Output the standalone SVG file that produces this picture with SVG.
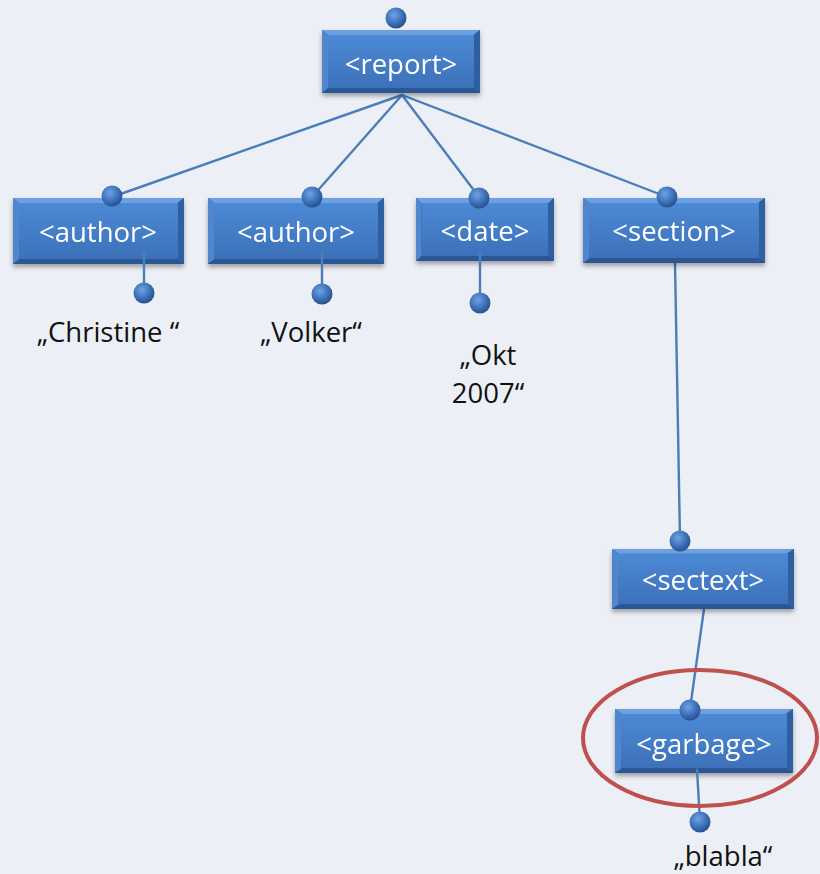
<svg xmlns="http://www.w3.org/2000/svg" width="820" height="874" viewBox="0 0 820 874">
  <style>
    .lbl { font-family: "Open Sans", "Liberation Sans", sans-serif; font-size: 27.5px; fill: #ffffff; text-anchor: middle; }
    .val { font-family: "Open Sans", "Liberation Sans", sans-serif; font-size: 27.5px; fill: #111111; text-anchor: middle; }
    .edge { stroke: #4A7EBB; stroke-width: 2.4; fill: none; stroke-linecap: round; }
    .face { fill: url(#faceGrad); }
    .ball { fill: url(#ballGrad); }
  </style>
  <defs>
    <linearGradient id="faceGrad" x1="0" y1="0" x2="0" y2="1">
      <stop offset="0" stop-color="#4C89D4"/>
      <stop offset="1" stop-color="#3D71BA"/>
    </linearGradient>
    <radialGradient id="ballGrad" cx="0.4" cy="0.35" r="0.7">
      <stop offset="0" stop-color="#6FA3E4"/>
      <stop offset="0.6" stop-color="#3B6EB6"/>
      <stop offset="1" stop-color="#244B86"/>
    </radialGradient>
    <filter id="shadow" x="-10%" y="-10%" width="120%" height="140%">
      <feGaussianBlur in="SourceAlpha" stdDeviation="2.5"/>
      <feOffset dx="0" dy="3"/>
      <feComponentTransfer><feFuncA type="linear" slope="0.35"/></feComponentTransfer>
      <feMerge><feMergeNode/><feMergeNode in="SourceGraphic"/></feMerge>
    </filter>
    <!-- bevelled box, 100x100 unit, stretched per node -->
    <g id="boxShape">
      <rect x="0" y="0" width="100" height="100" fill="#3567A9"/>
      <polygon points="0,0 100,0 96,8 4,8" fill="#6CA0E0"/>
      <polygon points="0,0 4,8 4,92 0,100" fill="#4F86CC"/>
      <polygon points="100,0 100,100 96,92 96,8" fill="#2F5E9E"/>
      <polygon points="0,100 4,92 96,92 100,100" fill="#2B5694"/>
    </g>
  </defs>

  <rect width="820" height="874" fill="#ECEFF5"/>

  <!-- connectors -->
  <g id="connectors">
    <line class="edge" x1="402" y1="95" x2="112" y2="197"/>
    <line class="edge" x1="402" y1="95" x2="312" y2="197"/>
    <line class="edge" x1="402" y1="95" x2="479" y2="197"/>
    <line class="edge" x1="402" y1="95" x2="667" y2="197"/>
    <line class="edge" x1="675" y1="263" x2="680" y2="540"/>
    <line class="edge" x1="704" y1="609" x2="690" y2="709"/>
  </g>

  <g id="report" filter="url(#shadow)">
    <svg x="322" y="30" width="158" height="63" viewBox="0 0 100 100" preserveAspectRatio="none"><use href="#boxShape"/></svg>
    <rect class="face" x="328" y="35" width="146" height="53"/>
    <text class="lbl" x="401" y="74">&lt;report&gt;</text>
  </g>

  <g id="author1" filter="url(#shadow)">
    <svg x="13" y="198" width="171" height="66" viewBox="0 0 100 100" preserveAspectRatio="none"><use href="#boxShape"/></svg>
    <rect class="face" x="19" y="203" width="159" height="56"/>
    <text class="lbl" x="98" y="242">&lt;author&gt;</text>
  </g>

  <g id="author2" filter="url(#shadow)">
    <svg x="208" y="198" width="176" height="66" viewBox="0 0 100 100" preserveAspectRatio="none"><use href="#boxShape"/></svg>
    <rect class="face" x="214" y="203" width="164" height="56"/>
    <text class="lbl" x="296" y="242">&lt;author&gt;</text>
  </g>

  <g id="date" filter="url(#shadow)">
    <svg x="416" y="198" width="138" height="63" viewBox="0 0 100 100" preserveAspectRatio="none"><use href="#boxShape"/></svg>
    <rect class="face" x="422" y="203" width="126" height="53"/>
    <text class="lbl" x="485" y="241">&lt;date&gt;</text>
  </g>

  <g id="section" filter="url(#shadow)">
    <svg x="583" y="198" width="182" height="65" viewBox="0 0 100 100" preserveAspectRatio="none"><use href="#boxShape"/></svg>
    <rect class="face" x="589" y="203" width="170" height="55"/>
    <text class="lbl" x="674" y="241">&lt;section&gt;</text>
  </g>

  <g id="sectext" filter="url(#shadow)">
    <svg x="612" y="549" width="182" height="60" viewBox="0 0 100 100" preserveAspectRatio="none"><use href="#boxShape"/></svg>
    <rect class="face" x="618" y="554" width="170" height="50"/>
    <text class="lbl" x="703" y="590">&lt;sectext&gt;</text>
  </g>

  <g id="garbage" filter="url(#shadow)">
    <svg x="615" y="709" width="178" height="64" viewBox="0 0 100 100" preserveAspectRatio="none"><use href="#boxShape"/></svg>
    <rect class="face" x="621" y="714" width="166" height="54"/>
    <text class="lbl" x="704" y="754">&lt;garbage&gt;</text>
  </g>

  <!-- leaf stems -->
  <g id="stems">
    <line class="edge" x1="144" y1="252" x2="144" y2="292"/>
    <line class="edge" x1="322" y1="252" x2="322" y2="293"/>
    <line class="edge" x1="480" y1="252" x2="480" y2="302"/>
    <line class="edge" x1="697" y1="770" x2="700" y2="821"/>
  </g>

  <!-- joint balls -->
  <g id="balls">
    <circle class="ball" cx="396" cy="18" r="10.5"/>
    <circle class="ball" cx="112" cy="196" r="10.5"/>
    <circle class="ball" cx="312" cy="197" r="10.5"/>
    <circle class="ball" cx="479" cy="198" r="10.5"/>
    <circle class="ball" cx="667" cy="197" r="10.5"/>
    <circle class="ball" cx="680" cy="541" r="10.5"/>
    <circle class="ball" cx="690" cy="710" r="10.5"/>
    <circle class="ball" cx="144" cy="293" r="10.5"/>
    <circle class="ball" cx="322" cy="294" r="10.5"/>
    <circle class="ball" cx="480" cy="303" r="10.5"/>
    <circle class="ball" cx="700" cy="822" r="10.5"/>
  </g>

  <!-- leaf values -->
  <g id="values">
    <text class="val" x="108" y="342">„Christine “</text>
    <text class="val" x="311" y="342">„Volker“</text>
    <text class="val" x="488" y="365">„Okt</text>
    <text class="val" x="488" y="403">2007“</text>
    <text class="val" x="723" y="866">„blabla“</text>
  </g>

  <!-- highlight ring -->
  <ellipse id="highlight" cx="700" cy="738" rx="117" ry="68" fill="none" stroke="#C0504D" stroke-width="4"/>
</svg>
